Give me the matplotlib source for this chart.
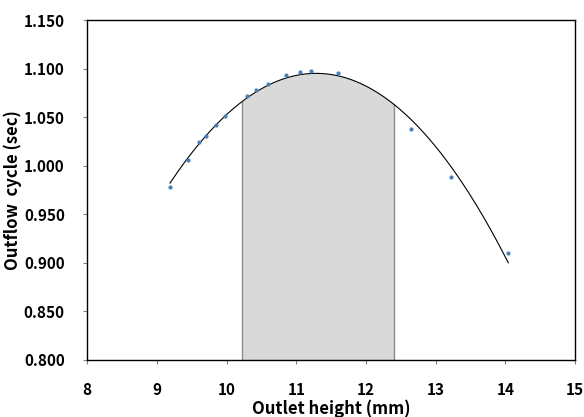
import numpy as np
import matplotlib
matplotlib.use("Agg")
import matplotlib.pyplot as plt
from matplotlib.ticker import FormatStrFormatter

plt.rcParams['font.family'] = ['Noto Sans CJK KR', 'DejaVu Sans']

# data
outlet_height = [9.19, 9.45, 9.61, 9.71, 9.85, 9.98, 10.30, 10.42, 10.60,
                 10.86, 11.06, 11.21, 11.60, 12.65, 13.22, 14.04]
outflow_cycle = [0.978, 1.006, 1.024, 1.031, 1.042, 1.051, 1.072, 1.078, 1.084,
                 1.093, 1.096, 1.0975, 1.0955, 1.038, 0.988, 0.910]
shade_range = [10.22, 12.40]
x_ticks = [8, 9, 10, 11, 12, 13, 14, 15]
y_ticks = [0.80, 0.85, 0.90, 0.95, 1.00, 1.05, 1.10, 1.15]

# quadratic trendline fitted to the data
coef = np.polyfit(outlet_height, outflow_cycle, 2)
xs = np.linspace(min(outlet_height), max(outlet_height), 300)
ys = np.polyval(coef, xs)

fig = plt.figure(figsize=(5.84, 4.17), dpi=100)
ax = fig.add_axes([0.149, 0.137, 0.836, 0.815])

xf = np.linspace(shade_range[0], shade_range[1], 200)
yf = np.polyval(coef, xf)
ax.fill_between(xf, 0.8, yf, color='#d9d9d9', lw=0, zorder=1)
ax.plot([xf[0], xf[0]], [0.8, yf[0]], color='#8c8c8c', lw=1, zorder=2)
ax.plot([xf[-1], xf[-1]], [0.8, yf[-1]], color='#8c8c8c', lw=1, zorder=2)
ax.plot(xf, [0.8] * len(xf), color='#a6a6a6', lw=0.8, zorder=2)

ax.plot(xs, ys, color='black', lw=0.8, zorder=3)
ax.scatter(outlet_height, outflow_cycle, s=9, color='#4a7ebb', zorder=4, linewidths=0)

ax.set_xlim(8, 15)
ax.set_ylim(0.8, 1.15)
ax.set_xticks(x_ticks)
ax.set_yticks(y_ticks)
ax.yaxis.set_major_formatter(FormatStrFormatter('%.3f'))
ax.tick_params(direction='out', length=3, width=0.8, color='#808080', labelsize=11, pad=13)
for lab in ax.get_xticklabels() + ax.get_yticklabels():
    lab.set_fontweight('bold')
for s in ax.spines.values():
    s.set_color('black')
    s.set_linewidth(1.0)

ax.set_xlabel('Outlet height (mm)', fontsize=12, fontweight='bold', labelpad=1)
ax.set_ylabel('Outflow  cycle (sec)', fontsize=12, fontweight='bold')
ax.yaxis.set_label_coords(-0.133, 0.5)

fig.savefig('out.png', dpi=100)
